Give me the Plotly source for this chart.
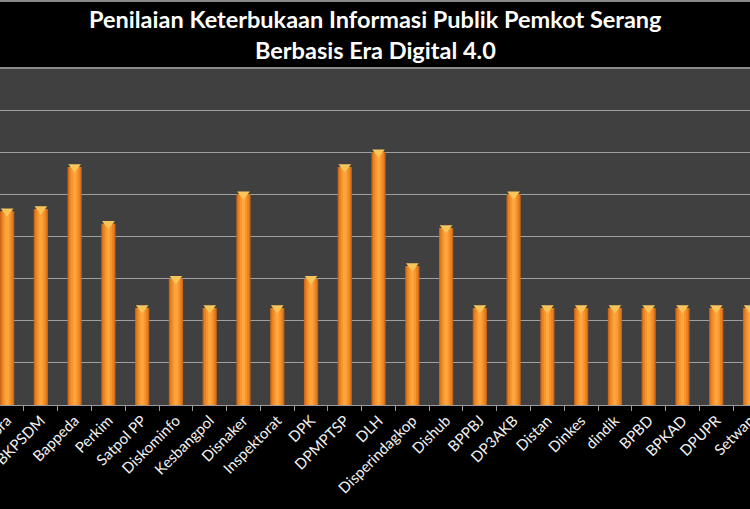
import plotly.graph_objects as go

# --- DATA ---
categories = ["Dispora", "BKPSDM", "Bappeda", "Perkim", "Satpol PP", "Diskominfo",
              "Kesbangpol", "Disnaker", "Inspektorat", "DPK", "DPMPTSP", "DLH",
              "Disperindagkop", "Dishub", "BPPBJ", "DP3AKB", "Distan", "Dinkes",
              "dindik", "BPBD", "BPKAD", "DPUPR", "Setwan"]
scores = [46, 46.5, 56.5, 43, 23, 30, 23, 50, 23, 30, 56.5, 60,
          33, 42, 23, 50, 23, 23, 23, 23, 23, 23, 23]
title_lines = ["Penilaian Keterbukaan Informasi Publik Pemkot Serang",
               "Berbasis Era Digital 4.0"]

FONT = "Lato"
PLOT_H = 337.0
fig = go.Figure()

# fake cylinder shading: overlaid bars of shrinking width
for w, col in [(0.42, "#C8661A"), (0.34, "#E9821F"), (0.22, "#F8952C"), (0.1, "#FFA641")]:
    fig.add_trace(go.Bar(x=categories, y=scores, width=w, marker=dict(color=col, line=dict(width=0)),
                         hoverinfo="skip", showlegend=False))

# lit cap at the top of each bar
fig.add_trace(go.Scatter(x=categories, y=scores, mode="markers",
                         marker=dict(symbol="triangle-down", size=11, color="#F9C55A",
                                     line=dict(width=0)),
                         hoverinfo="skip", showlegend=False))

for i, txt in enumerate(title_lines):
    fig.add_annotation(text=f"<b>{txt}</b>", xref="paper", yref="paper", x=0.5,
                       y=1 + (49 - 31 * i) / PLOT_H, xanchor="center", yanchor="middle",
                       showarrow=False, font=dict(family=FONT, size=23.5, color="white"))

fig.add_shape(type="line", xref="paper", yref="paper", x0=0, x1=1, y0=1 + 67 / PLOT_H,
              y1=1 + 67 / PLOT_H, line=dict(color="#8a8a8a", width=2))
fig.add_shape(type="line", xref="paper", yref="paper", x0=0, x1=1, y0=1, y1=1,
              line=dict(color="#8a8a8a", width=2))

fig.update_layout(
    width=750, height=509,
    margin=dict(l=0, r=0, t=68, b=104, autoexpand=False),
    paper_bgcolor="black", plot_bgcolor="#404040",
    barmode="overlay",
    font=dict(family=FONT, color="white"),
    xaxis=dict(range=[-0.21, 22.0], tickangle=-45, tickfont=dict(size=15, color="#f2f2f2"),
               ticks="outside", tickson="boundaries", ticklen=5, tickcolor="#9a9a9a",
               showline=True, linecolor="#9a9a9a", linewidth=1, showgrid=False,
               automargin=False),
    yaxis=dict(range=[0, 80], dtick=10, showgrid=True, gridcolor="#a0a0a0", gridwidth=1,
               showticklabels=False, zeroline=False, fixedrange=True, automargin=False),
)

fig.write_html("out.html", config={"displayModeBar": False},
               post_script="document.body.style.margin='0';document.body.style.background='black';")
